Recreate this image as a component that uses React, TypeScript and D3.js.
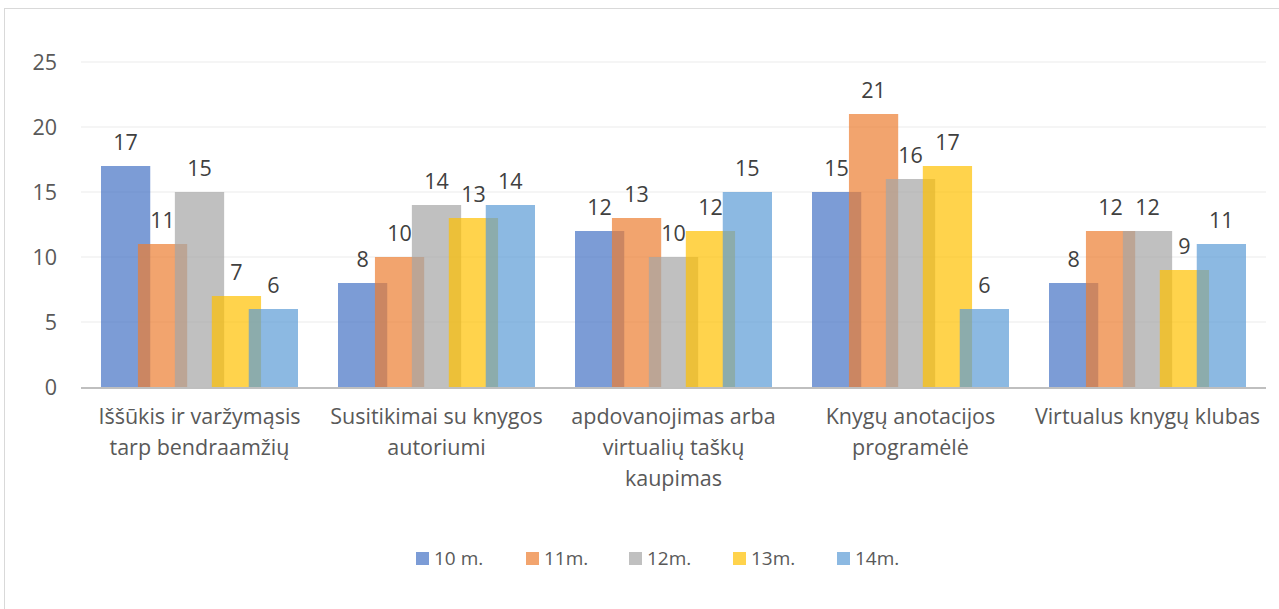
import React, { useEffect, useRef } from 'react';
import * as d3 from 'd3';

// kategorijos (eilutės jau suskaidytos kaip paveikslėlyje)
const categories = [
  ['Iššūkis ir varžymąsis', 'tarp bendraamžių'],
  ['Susitikimai su knygos', 'autoriumi'],
  ['apdovanojimas arba', 'virtualių taškų', 'kaupimas'],
  ['Knygų anotacijos', 'programėlė'],
  ['Virtualus knygų klubas'],
];
const seriesNames = ['10 m.', '11m.', '12m.', '13m.', '14m.'];
const s10 = [17, 8, 12, 15, 8];
const s11 = [11, 10, 13, 21, 12];
const s12 = [15, 14, 10, 16, 12];
const s13 = [7, 13, 12, 17, 9];
const s14 = [6, 14, 15, 6, 11];
const yTicks = [0, 5, 10, 15, 20, 25];

const colors = ['#4472C4', '#ED7D31', '#A5A5A5', '#FFC000', '#5B9BD5'];

export default function App() {
  const ref = useRef<SVGSVGElement>(null);

  useEffect(() => {
    const width = 1279;
    const height = 609;
    const margin = { top: 62, right: 13, bottom: 222, left: 81 };
    const series = [s10, s11, s12, s13, s14];
    const font = '"Open Sans", sans-serif';
    const fs = 21.5;

    const svg = d3.select(ref.current);
    svg.selectAll('*').remove();

    svg.append('rect')
      .attr('x', 4.5).attr('y', 8.5)
      .attr('width', width + 10).attr('height', height + 10)
      .attr('fill', '#fff').attr('stroke', '#d9d9d9');

    const x = d3.scaleBand<number>()
      .domain(d3.range(categories.length))
      .range([margin.left, width - margin.right]);

    const y = d3.scaleLinear()
      .domain([0, 25])
      .range([height - margin.bottom, margin.top]);

    // bars overlap like in Excel: step is smaller than width
    const groupPad = 20;
    const step = (x.bandwidth() - 2 * groupPad) / (series.length + 1 / 3);
    const barW = step * 4 / 3;

    // grid
    svg.append('g')
      .selectAll('line')
      .data(yTicks.slice(1))
      .join('line')
      .attr('x1', margin.left).attr('x2', width - margin.right)
      .attr('y1', d => y(d)).attr('y2', d => y(d))
      .attr('stroke', '#ebebeb').attr('stroke-width', 1);

    // y labels
    svg.append('g')
      .selectAll('text')
      .data(yTicks)
      .join('text')
      .attr('x', 57).attr('y', d => y(d))
      .attr('dy', '0.35em')
      .attr('text-anchor', 'end')
      .attr('font-family', font).attr('font-size', fs)
      .attr('fill', '#595959')
      .text(d => d);

    series.forEach((vals, si) => {
      const g = svg.append('g');
      g.selectAll('rect')
        .data(vals)
        .join('rect')
        .attr('x', (d, i) => x(i)! + groupPad + si * step)
        .attr('y', d => y(d))
        .attr('width', barW)
        .attr('height', d => y(0) - y(d))
        .attr('fill', colors[si])
        .attr('fill-opacity', 0.7);
      g.selectAll('text')
        .data(vals)
        .join('text')
        .attr('x', (d, i) => x(i)! + groupPad + si * step + barW / 2)
        .attr('y', d => y(d) - 16)
        .attr('text-anchor', 'middle')
        .attr('font-family', font).attr('font-size', fs)
        .attr('fill', '#404040')
        .text(d => d);
    });

    // x axis line
    svg.append('line')
      .attr('x1', margin.left).attr('x2', width - margin.right)
      .attr('y1', y(0) + 1).attr('y2', y(0) + 1)
      .attr('stroke', '#bfbfbf').attr('stroke-width', 2);

    // category labels
    categories.forEach((lines, i) => {
      const t = svg.append('text')
        .attr('text-anchor', 'middle')
        .attr('font-family', font).attr('font-size', fs)
        .attr('fill', '#595959');
      lines.forEach((ln, j) => {
        t.append('tspan')
          .attr('x', x(i)! + x.bandwidth() / 2)
          .attr('y', 424 + j * 31)
          .text(ln);
      });
    });

    // legend
    const legX = [416, 526, 629, 733, 837];
    const leg = svg.append('g');
    seriesNames.forEach((name, i) => {
      leg.append('rect')
        .attr('x', legX[i]).attr('y', 552)
        .attr('width', 13).attr('height', 13)
        .attr('fill', colors[i]).attr('fill-opacity', 0.7);
      leg.append('text')
        .attr('x', legX[i] + 18).attr('y', 558)
        .attr('dy', '0.35em')
        .attr('font-family', font).attr('font-size', 19)
        .attr('fill', '#595959')
        .text(name);
    });
  }, []);

  return (
    <svg ref={ref} width={1279} height={609}
      style={{ position: 'absolute', left: 0, top: 0 }} />
  );
}
